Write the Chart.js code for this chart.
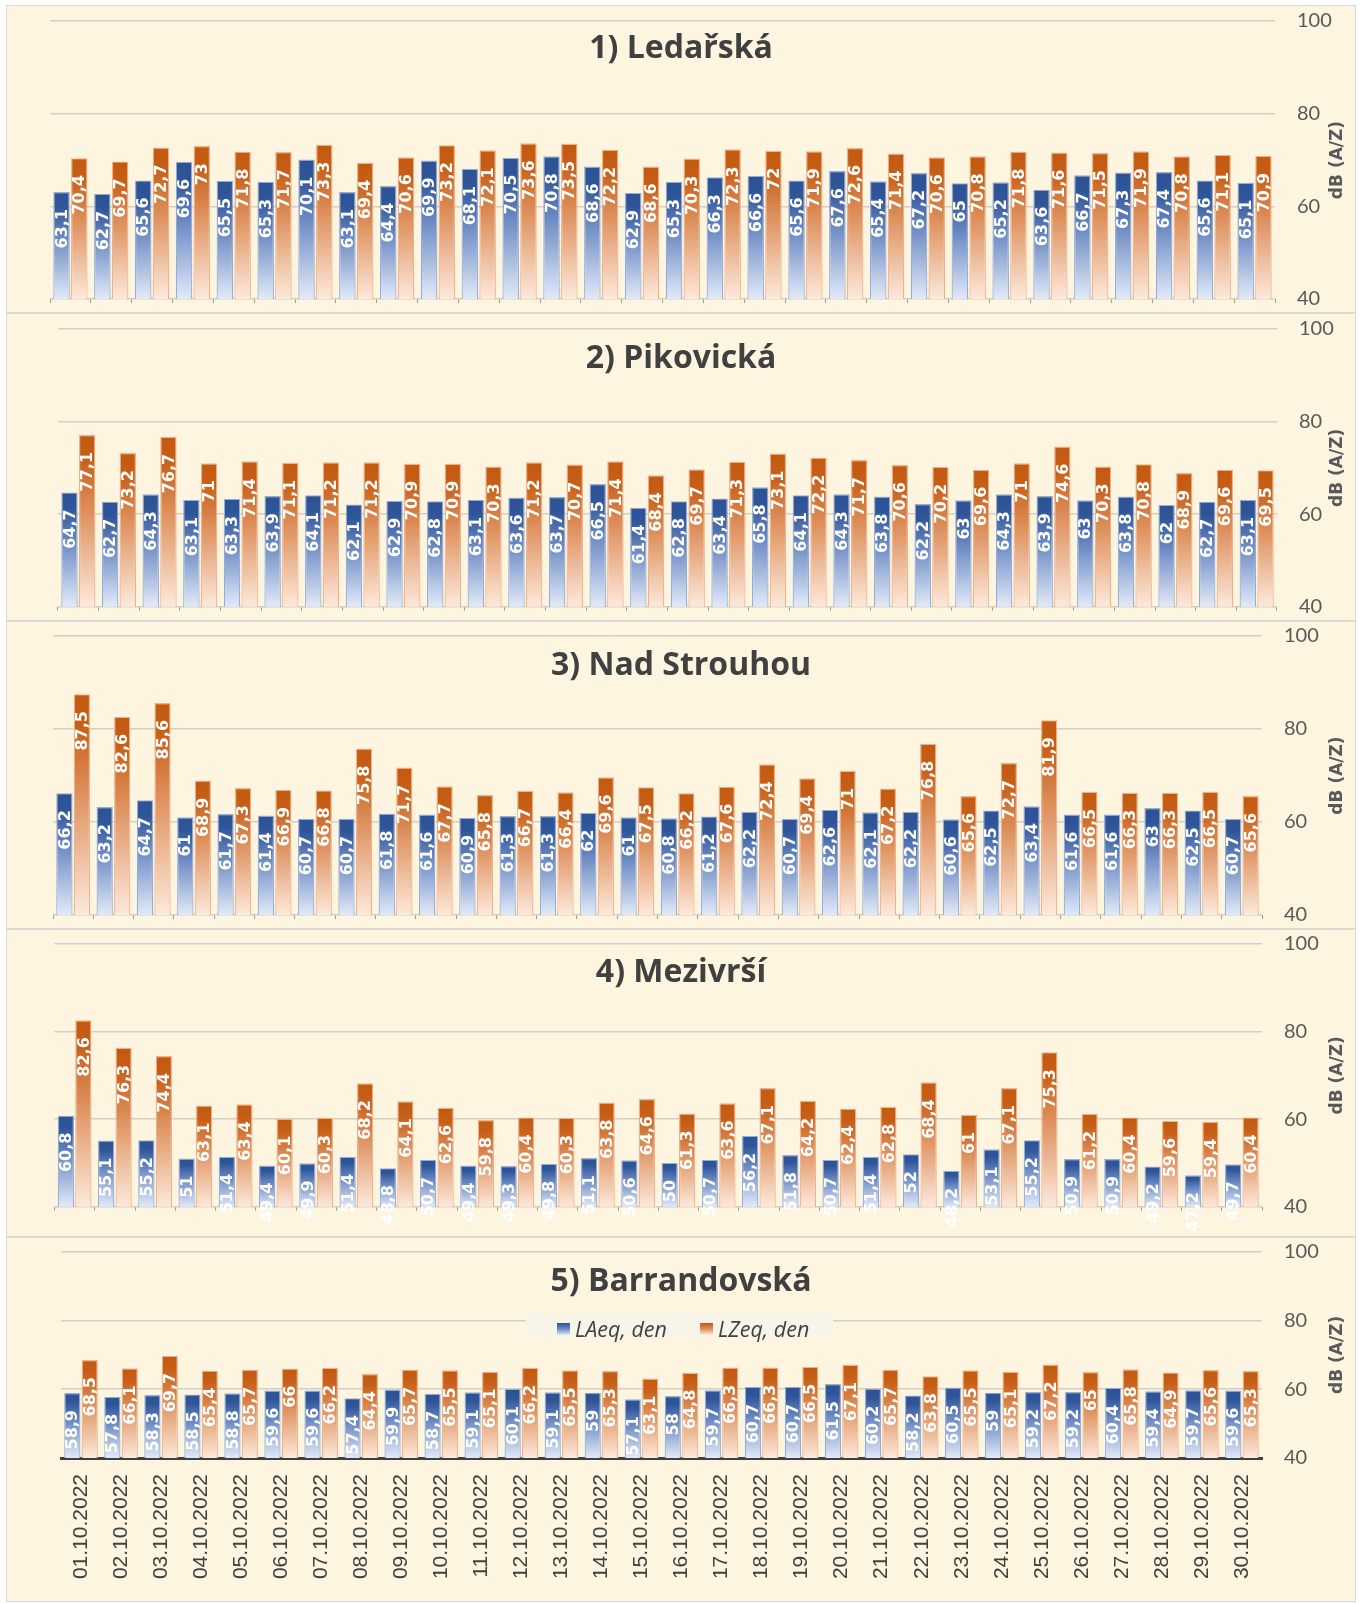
<!DOCTYPE html>
<html>
<head>
<meta charset="utf-8">
<script src="https://cdn.jsdelivr.net/npm/chart.js@4.4.0/dist/chart.umd.min.js"></script>
<style>
  body { margin: 0; background: #ffffff; }
  #frame { position: absolute; left: 6px; top: 5px; width: 1348px; height: 1595px;
           border: 1.5px solid #d9d9d9; background: #fef5e0; }
  canvas { position: absolute; left: 7px; }
  .divider { position: absolute; left: 7px; width: 1348px; height: 2px; background: #dcdad4; }
  #legend { position: absolute; left: 526px; top: 1314px; width: 307px; height: 23px; background: #f7f4ea; }
  .sw { position: absolute; top: 8.5px; width: 12.5px; height: 12.5px; }
  .lt { position: absolute; top: 0; line-height: 23px; font: italic 21.5px "Open Sans", sans-serif; color: #404040; white-space: nowrap; }
</style>
</head>
<body>
<div id="frame"></div>
<div id="charts"></div>
<script>
// kategorie (dny) a názvy
const dates = ['01.10.2022','02.10.2022','03.10.2022','04.10.2022','05.10.2022','06.10.2022','07.10.2022','08.10.2022','09.10.2022','10.10.2022',
  '11.10.2022','12.10.2022','13.10.2022','14.10.2022','15.10.2022','16.10.2022','17.10.2022','18.10.2022','19.10.2022','20.10.2022',
  '21.10.2022','22.10.2022','23.10.2022','24.10.2022','25.10.2022','26.10.2022','27.10.2022','28.10.2022','29.10.2022','30.10.2022'];
const stationNames = ['1) Ledařská', '2) Pikovická', '3) Nad Strouhou', '4) Mezivrší', '5) Barrandovská'];
const seriesNames = ['LAeq, den', 'LZeq, den'];
const yTicks = [40, 60, 80, 100];
const axisTitle = 'dB (A/Z)';

// hodnoty dB
const laeqLedarska = [63.1,62.7,65.6,69.6,65.5,65.3,70.1,63.1,64.4,69.9,68.1,70.5,70.8,68.6,62.9,65.3,66.3,66.6,65.6,67.6,65.4,67.2,65,65.2,63.6,66.7,67.3,67.4,65.6,65.1];
const lzeqLedarska = [70.4,69.7,72.7,73,71.8,71.7,73.3,69.4,70.6,73.2,72.1,73.6,73.5,72.2,68.6,70.3,72.3,72,71.9,72.6,71.4,70.6,70.8,71.8,71.6,71.5,71.9,70.8,71.1,70.9];

const laeqPikovicka = [64.7,62.7,64.3,63.1,63.3,63.9,64.1,62.1,62.9,62.8,63.1,63.6,63.7,66.5,61.4,62.8,63.4,65.8,64.1,64.3,63.8,62.2,63,64.3,63.9,63,63.8,62,62.7,63.1];
const lzeqPikovicka = [77.1,73.2,76.7,71,71.4,71.1,71.2,71.2,70.9,70.9,70.3,71.2,70.7,71.4,68.4,69.7,71.3,73.1,72.2,71.7,70.6,70.2,69.6,71,74.6,70.3,70.8,68.9,69.6,69.5];

const laeqNadStrouhou = [66.2,63.2,64.7,61,61.7,61.4,60.7,60.7,61.8,61.6,60.9,61.3,61.3,62,61,60.8,61.2,62.2,60.7,62.6,62.1,62.2,60.6,62.5,63.4,61.6,61.6,63,62.5,60.7];
const lzeqNadStrouhou = [87.5,82.6,85.6,68.9,67.3,66.9,66.8,75.8,71.7,67.7,65.8,66.7,66.4,69.6,67.5,66.2,67.6,72.4,69.4,71,67.2,76.8,65.6,72.7,81.9,66.5,66.3,66.3,66.5,65.6];

const laeqMezivrsi = [60.8,55.1,55.2,51,51.4,49.4,49.9,51.4,48.8,50.7,49.4,49.3,49.8,51.1,50.6,50,50.7,56.2,51.8,50.7,51.4,52,48.2,53.1,55.2,50.9,50.9,49.2,47.2,49.7];
const lzeqMezivrsi = [82.6,76.3,74.4,63.1,63.4,60.1,60.3,68.2,64.1,62.6,59.8,60.4,60.3,63.8,64.6,61.3,63.6,67.1,64.2,62.4,62.8,68.4,61,67.1,75.3,61.2,60.4,59.6,59.4,60.4];

const laeqBarrandovska = [58.9,57.8,58.3,58.5,58.8,59.6,59.6,57.4,59.9,58.7,59.1,60.1,59.1,59,57.1,58,59.7,60.7,60.7,61.5,60.2,58.2,60.5,59,59.2,59.2,60.4,59.4,59.7,59.6];
const lzeqBarrandovska = [68.5,66.1,69.7,65.4,65.7,66,66.2,64.4,65.7,65.5,65.1,66.2,65.5,65.3,63.1,64.8,66.3,66.3,66.5,67.1,65.7,63.8,65.5,65.1,67.2,65,65.8,64.9,65.6,65.3];

const laeqAll = [laeqLedarska, laeqPikovicka, laeqNadStrouhou, laeqMezivrsi, laeqBarrandovska];
const lzeqAll = [lzeqLedarska, lzeqPikovicka, lzeqNadStrouhou, lzeqMezivrsi, lzeqBarrandovska];

// rozložení panelů (px)
const W = 1348;
const panely = [
  { top: 6,    h: 307, pt: 15,   pb: 293.3, pl: 43,   pr: 1268, ty: 43 },
  { top: 313,  h: 308, pt: 16,   pb: 293.7, pl: 51,   pr: 1270, ty: 46 },
  { top: 621,  h: 308, pt: 15,   pb: 294,   pl: 46,   pr: 1255, ty: 45 },
  { top: 929,  h: 308, pt: 15,   pb: 277.7, pl: 47.5, pr: 1255, ty: 44 },
  { top: 1237, h: 364, pt: 14.7, pb: 221,   pl: 54,   pr: 1255, ty: 45 }
];

const modra = [[0, '#2c5195'], [0.14, '#30569a'], [0.45, '#6f8dc5'], [1, '#e2eaf8']];
const oranzova = [[0, '#c3590f'], [0.14, '#c75f18'], [0.45, '#de915e'], [1, '#fde9dc']];

function gradient(stops) {
  return (c) => {
    const chart = c.chart;
    if (!chart.chartArea || c.type !== 'data') return stops[0][1];
    const y = chart.scales.y;
    const top = y.getPixelForValue(c.raw);
    const bottom = y.getPixelForValue(40);
    const g = chart.ctx.createLinearGradient(0, top, 0, bottom);
    stops.forEach(s => g.addColorStop(s[0], s[1]));
    return g;
  };
}

const popisky = {
  id: 'popisky',
  afterDatasetsDraw(chart) {
    const ctx = chart.ctx;
    ctx.save();
    ctx.fillStyle = '#ffffff';
    ctx.font = 'bold 16px "DejaVu Sans"';
    ctx.textAlign = 'left';
    ctx.textBaseline = 'middle';
    chart.data.datasets.forEach((ds, di) => {
      chart.getDatasetMeta(di).data.forEach((bar, i) => {
        const txt = String(ds.data[i]).replace('.', ',');
        const w = ctx.measureText(txt).width;
        let start = bar.y + 17 + w;
        if (start > bar.base - 16) start = bar.base - 16;
        ctx.save();
        ctx.translate(bar.x + 1, start);
        ctx.rotate(-Math.PI / 2);
        ctx.fillText(txt, 0, 0);
        ctx.restore();
      });
    });
    ctx.restore();
  },
  afterDraw(chart, args, opts) {
    const ctx = chart.ctx;
    const a = chart.chartArea;
    ctx.save();
    ctx.fillStyle = '#404040';
    ctx.font = 'bold 32px "Open Sans"';
    ctx.textAlign = 'center';
    ctx.textBaseline = 'middle';
    ctx.fillText(opts.title, W / 2, opts.ty);
    ctx.fillStyle = '#595959';
    ctx.font = 'bold 17px "DejaVu Sans"';
    ctx.translate(1331, (a.top + a.bottom) / 2);
    ctx.rotate(-Math.PI / 2);
    ctx.fillText(axisTitle, 0, 0);
    ctx.restore();
  }
};

panely.forEach((p, k) => {
  const cv = document.createElement('canvas');
  cv.width = W; cv.height = p.h;
  cv.style.top = p.top + 'px';
  document.getElementById('charts').appendChild(cv);
  const posledni = k === panely.length - 1;

  const xScale = posledni ? {
    ticks: { autoSkip: false, minRotation: 90, maxRotation: 90, padding: 16,
             font: { family: 'Liberation Sans', size: 21 }, color: '#404040' },
    grid: { display: false, drawTicks: false },
    border: { display: true, color: '#404040', width: 3 },
    afterFit: s => { s.height = p.h - p.pb; }
  } : {
    ticks: { display: false },
    grid: { display: true, drawOnChartArea: false, drawTicks: true, tickLength: 4, color: '#9a9a9a', offset: true },
    border: { display: false },
    afterFit: s => { s.height = p.h - p.pb; }
  };

  new Chart(cv, {
    type: 'bar',
    data: {
      labels: dates,
      datasets: [
        { label: seriesNames[0], data: laeqAll[k], backgroundColor: gradient(modra),
          borderColor: '#92acdc', borderWidth: 1.2, categoryPercentage: 0.87, barPercentage: 0.93 },
        { label: seriesNames[1], data: lzeqAll[k], backgroundColor: gradient(oranzova),
          borderColor: '#efb188', borderWidth: 1.2, categoryPercentage: 0.87, barPercentage: 0.93 }
      ]
    },
    options: {
      responsive: false,
      animation: false,
      layout: { padding: { left: p.pl, top: p.pt, right: 0, bottom: 0 } },
      plugins: {
        legend: { display: false },
        tooltip: { enabled: false },
        popisky: { title: stationNames[k], ty: p.ty }
      },
      scales: {
        x: xScale,
        y: {
          position: 'right', min: 40, max: 100,
          afterBuildTicks: s => { s.ticks = yTicks.map(v => ({ value: v })); },
          ticks: { padding: 2, font: { family: 'Lato', size: 20 }, color: '#595959' },
          // neviditelné značky posunou popisky osy doprava
          grid: { color: '#d3cfc3', lineWidth: 1.5, drawTicks: true, tickLength: 20, tickColor: 'rgba(0,0,0,0)' },
          border: { display: false },
          afterFit: s => { s.width = W - p.pr; }
        }
      }
    },
    plugins: [popisky]
  });

  if (k > 0) {
    const d = document.createElement('div');
    d.className = 'divider';
    d.style.top = (p.top - 1) + 'px';
    document.body.appendChild(d);
  }
});

// legenda (jen u posledního panelu)
const leg = document.createElement('div');
leg.id = 'legend';
const legPos = [[31, 49], [174, 192]];
seriesNames.forEach((n, i) => {
  const st = i === 0 ? modra : oranzova;
  const sw = document.createElement('div');
  sw.className = 'sw';
  sw.style.left = legPos[i][0] + 'px';
  sw.style.background = 'linear-gradient(' + st[0][1] + ',' + st[2][1] + ',' + st[3][1] + ')';
  const t = document.createElement('div');
  t.className = 'lt';
  t.style.left = legPos[i][1] + 'px';
  t.textContent = n;
  leg.appendChild(sw);
  leg.appendChild(t);
});
document.body.appendChild(leg);
</script>
</body>
</html>
